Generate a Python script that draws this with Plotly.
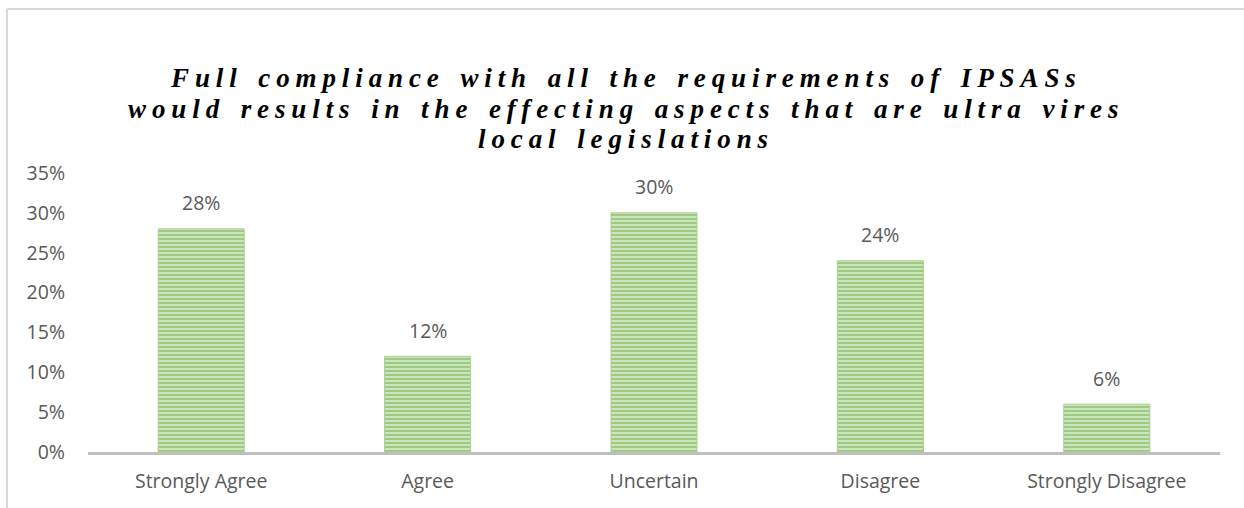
import plotly.graph_objects as go

categories = ["Strongly Agree", "Agree", "Uncertain", "Disagree", "Strongly Disagree"]
values = [28, 12, 30, 24, 6]
y_ticks = [0, 5, 10, 15, 20, 25, 30, 35]
title_lines = [
    "Full compliance with all the requirements of IPSASs",
    "would results in the effecting aspects that are ultra vires",
    "local legislations",
]

W, H = 1244, 508
L, R, T, B = 88, 24, 173, 56
pw, ph = W - L - R, H - T - B

def px_x(x):
    return (x - L) / pw

def px_y(y):
    return 1 - (y - T) / ph

txt_col = "#595959"
font_fam = "Open Sans, Lato, sans-serif"
fsize = 19.5

fig = go.Figure()
fig.add_trace(go.Bar(
    x=categories, y=values, width=0.38,
    marker=dict(
        color="#a9d18e",
        line=dict(color="#a9d18e", width=1),
        pattern=dict(shape="-", bgcolor="#d8ebcb", fgcolor="#64a83a", size=4, solidity=0.6),
    ),
    hoverinfo="skip",
))

annotations = []
for c, v in zip(categories, values):
    annotations.append(dict(x=c, y=v, xref="x", yref="y", text=f"{v}%", showarrow=False,
                            yshift=26, font=dict(family=font_fam, size=fsize, color=txt_col)))

title_y = [78, 109, 139]
for line, yy in zip(title_lines, title_y):
    annotations.append(dict(
        x=px_x(626), y=px_y(yy), xref="paper", yref="paper",
        text=f'<b><i><span style="letter-spacing:5.9px;word-spacing:3px">{line}</span></i></b>',
        showarrow=False, xanchor="center", yanchor="middle", align="center",
        font=dict(family="Liberation Serif, Times New Roman, serif", size=27, color="#000000")))

shapes = [
    dict(type="line", xref="paper", yref="paper", x0=px_x(7), x1=px_x(7), y0=px_y(9), y1=px_y(520),
         line=dict(color="#d9d9d9", width=2)),
    dict(type="line", xref="paper", yref="paper", x0=px_x(7), x1=px_x(1260), y0=px_y(9), y1=px_y(9),
         line=dict(color="#d9d9d9", width=2)),
]

fig.update_layout(
    width=W, height=H,
    margin=dict(l=L, r=R, t=T, b=B, autoexpand=False),
    paper_bgcolor="white", plot_bgcolor="white",
    showlegend=False,
    annotations=annotations,
    shapes=shapes,
    xaxis=dict(
        showline=True, linecolor="#bfbfbf", linewidth=3, showgrid=False, zeroline=False,
        ticks="", tickfont=dict(family=font_fam, size=fsize, color=txt_col),
        ticklabelstandoff=10, fixedrange=True,
    ),
    yaxis=dict(
        range=[0, 35], tickvals=y_ticks, ticktext=[f"{t}%" for t in y_ticks],
        showline=False, showgrid=False, zeroline=False, ticks="",
        tickfont=dict(family=font_fam, size=fsize, color=txt_col),
        ticklabelstandoff=22, fixedrange=True,
    ),
)

fig.write_html("out.html", config={"displayModeBar": False},
               post_script="document.body.style.margin='0';")
